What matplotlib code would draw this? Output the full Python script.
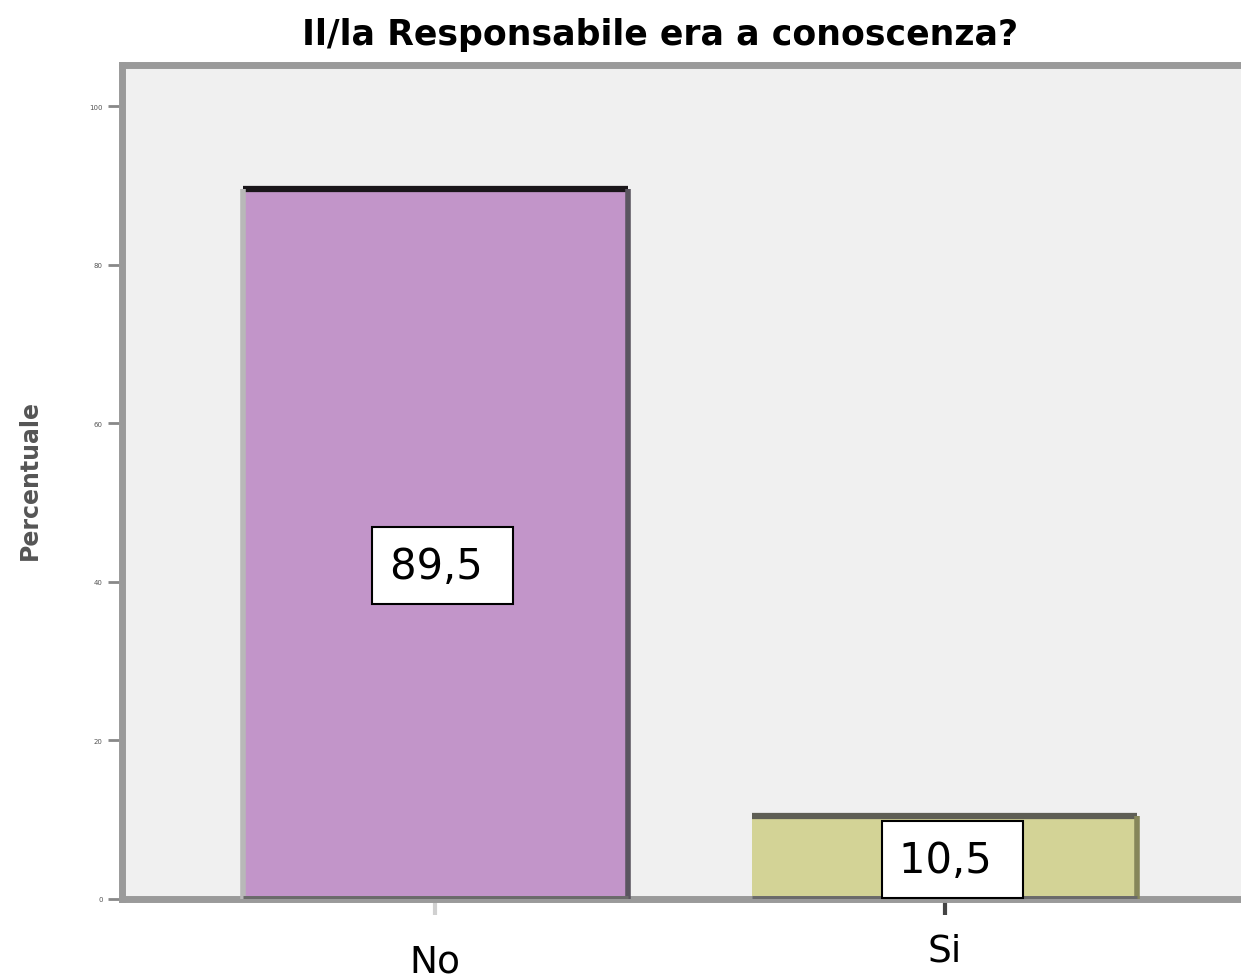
import numpy as np
import matplotlib
matplotlib.use("Agg")
import matplotlib.pyplot as plt
from matplotlib import transforms

# data
categories = ["No", "Si"]
percent = [89.5, 10.5]
labels_txt = ["89,5", "10,5"]
yticks = [0, 20, 40, 60, 80, 100]

fill_cols = ["#c295c9", "#d3d396"]
top_cols = ["#1a161a", "#5e5e55"]
left_cols = ["#b8b8b8", None]
right_cols = ["#5a5560", "#86865a"]
xtick_cols = ["#d0d0d0", "#444444"]

W, H = 1241, 979
fig = plt.figure(figsize=(W / 100, H / 100), dpi=100)
fig.patch.set_facecolor("white")

# axes spills past the right edge like the original
ax = fig.add_axes([122 / W, 1 - 900 / H, (1258 - 122) / W, (900 - 66) / H])
ax.set_facecolor("#f0f0f0")

x = np.arange(len(categories))
bw = 0.755
ax.bar(x, percent, width=bw, color=fill_cols, edgecolor="none", zorder=2)

# bar outlines, 3d-ish
for xi, v, tc, lc, rc in zip(x, percent, top_cols, left_cols, right_cols):
    l, r = xi - bw / 2, xi + bw / 2
    ax.plot([l, r], [v, v], color=tc, lw=4.5, solid_capstyle="butt", zorder=3)
    if lc:
        ax.plot([l, l], [0, v], color=lc, lw=4, solid_capstyle="butt", zorder=3)
    ax.plot([r, r], [0, v], color=rc, lw=4, solid_capstyle="butt", zorder=3)
    ax.plot([l, r], [0, 0], color="#6a6a6a", lw=5, solid_capstyle="butt", zorder=4)

for xi, v, t in zip(x, percent, labels_txt):
    ax.text(xi + 0.015, v * 0.47, t + " ", ha="center", va="center",
            fontsize=30, color="black", zorder=5,
            bbox=dict(boxstyle="square,pad=0.42", fc="white", ec="black", lw=1.5))

ax.set_xlim(-0.615, 1.615)
ax.set_ylim(0, 105.2)

for side in ["left", "top", "bottom"]:
    ax.spines[side].set_color("#9a9a9a")
    ax.spines[side].set_linewidth(5)
ax.spines["right"].set_visible(False)

ax.set_yticks(yticks)
ax.set_yticklabels([str(t) for t in yticks], fontsize=5, color="#555555")
ax.tick_params(axis="y", length=10, width=2, color="#888888", pad=4)

ax.set_xticks([])
# x ticks drawn by hand, each its own colour
tr_x = transforms.blended_transform_factory(ax.transData, ax.transAxes)
for xi, c in zip(x, xtick_cols):
    ax.plot([xi, xi], [-0.004, -0.019], color=c, lw=3, transform=tr_x,
            clip_on=False, solid_capstyle="butt")

trans = transforms.blended_transform_factory(ax.transData, fig.transFigure)
ax.text(x[0], 1 - 963 / H, categories[0], transform=trans, ha="center",
        va="center", fontsize=27)
ax.text(x[1], 1 - 952 / H, categories[1], transform=trans, ha="center",
        va="center", fontsize=27)

fig.text(30 / W, 1 - 480 / H, "Percentuale", rotation=90, ha="center",
         va="center", fontsize=17, fontweight="bold", color="#555555")

fig.text(660 / W, 1 - 35 / H, "Il/la Responsabile era a conoscenza?",
         ha="center", va="center", fontsize=25, fontweight="bold")

fig.savefig("out.png", dpi=100)
